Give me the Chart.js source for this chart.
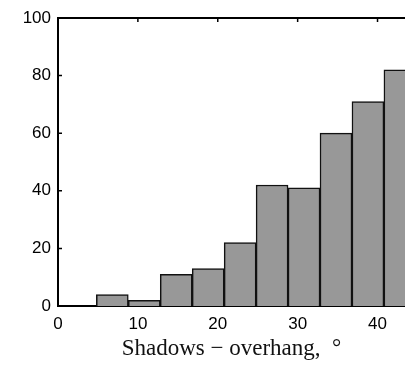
<!DOCTYPE html>
<html>
<head>
<meta charset="utf-8">
<script src="https://cdn.jsdelivr.net/npm/chart.js@4.4.1/dist/chart.umd.min.js"></script>
<style>
html,body{margin:0;padding:0;background:#fff;overflow:hidden;}
#wrap{width:405px;height:365px;position:relative;}
</style>
</head>
<body>
<div id="wrap"><canvas id="c" width="405" height="365"></canvas></div>
<script>
// Histogram: bin centres (degrees) and counts
const binCenters = [6.8, 10.8, 14.8, 18.8, 22.8, 26.8, 30.8, 34.8, 38.8, 42.8];
const counts = [4, 2, 11, 13, 22, 42, 41, 60, 71, 82];
const xTicks = [0, 10, 20, 30, 40];
const yTicks = [0, 20, 40, 60, 80, 100];
const xTitle = 'Shadows \u2212 overhang,  \u00B0';

const innerTicks = {
  id: 'innerTicks',
  afterDatasetsDraw(chart) {
    const ctx = chart.ctx, a = chart.chartArea;
    const xs = chart.scales.x, ys = chart.scales.y;
    ctx.save();
    ctx.strokeStyle = '#000';
    ctx.lineWidth = 1.5;
    ctx.beginPath();
    xTicks.forEach(v => {
      if (v === 0) return;
      const px = xs.getPixelForValue(v);
      ctx.moveTo(px, a.top); ctx.lineTo(px, a.top + 4);
    });
    yTicks.forEach(v => {
      if (v === 0 || v === 100) return;
      const py = ys.getPixelForValue(v);
      ctx.moveTo(a.left, py); ctx.lineTo(a.left + 4, py);
    });
    ctx.stroke();
    ctx.restore();
  }
};

new Chart(document.getElementById('c'), {
  type: 'bar',
  data: {
    datasets: [{
      data: binCenters.map((x, i) => ({x: x, y: counts[i]})),
      backgroundColor: 'rgb(152,152,152)',
      borderColor: '#111',
      borderWidth: 1.5,
      barPercentage: 1,
      categoryPercentage: 1
    }]
  },
  plugins: [innerTicks],
  options: {
    responsive: false,
    animation: false,
    layout: {padding: {left: 0, right: 0, top: 0, bottom: 0}},
    plugins: {legend: {display: false}, tooltip: {enabled: false}},
    scales: {
      x: {
        type: 'linear',
        position: 'bottom',
        offset: false,
        min: 0,
        max: 43.44,
        afterBuildTicks: s => { s.ticks = xTicks.map(v => ({value: v})); },
        afterFit: s => { s.height = 59; },
        grid: {display: false, drawTicks: false, offset: false},
        border: {display: true, color: '#000', width: 2},
        ticks: {color: '#000', padding: 8, maxRotation: 0, font: {family: 'Liberation Sans', size: 17}},
        title: {display: true, text: xTitle, color: '#111', padding: {top: 0, bottom: 2},
                font: {family: 'Liberation Serif', size: 23}}
      },
      x2: {
        type: 'linear',
        position: 'top',
        offset: false,
        min: 0,
        max: 43.44,
        afterFit: s => { s.height = 18; },
        grid: {display: false, drawTicks: false, offset: false},
        border: {display: true, color: '#000', width: 2},
        ticks: {display: false}
      },
      y: {
        min: 0,
        max: 100,
        afterBuildTicks: s => { s.ticks = yTicks.map(v => ({value: v})); },
        afterFit: s => { s.width = 58; },
        grid: {display: false, drawTicks: false},
        border: {display: true, color: '#000', width: 2},
        ticks: {color: '#000', padding: 7, font: {family: 'Liberation Sans', size: 17}}
      }
    }
  }
});
</script>
</body>
</html>
